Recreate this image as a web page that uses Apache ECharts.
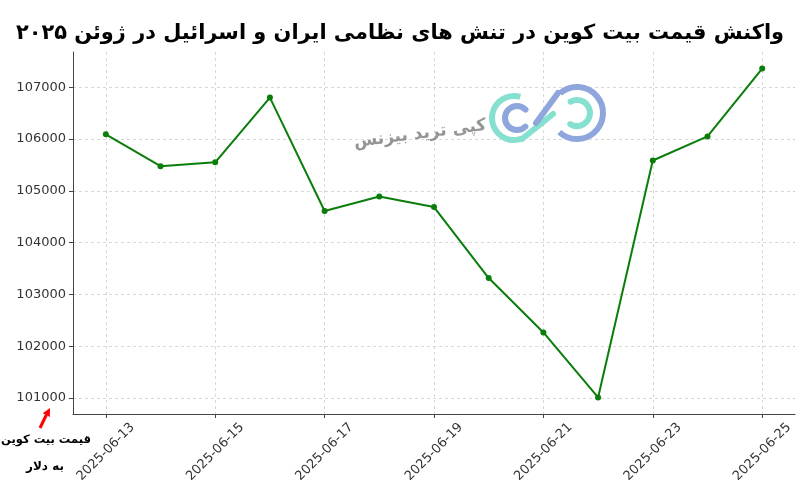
<!DOCTYPE html>
<html><head><meta charset="utf-8">
<script src="https://cdn.jsdelivr.net/npm/echarts@6/dist/echarts.min.js"></script>
<style>html,body{margin:0;padding:0;background:#fff}#c{width:800px;height:500px}</style>
</head><body><div id="c"></div>
<script>
const dates = ['2025-06-13','2025-06-14','2025-06-15','2025-06-16','2025-06-17','2025-06-18','2025-06-19','2025-06-20','2025-06-21','2025-06-22','2025-06-23','2025-06-24','2025-06-25'];
const prices = [106090, 105475, 105550, 106800, 104610, 104890, 104685, 103315, 102265, 101010, 105585, 106050, 107360];
const yTicks = [101000, 102000, 103000, 104000, 105000, 106000, 107000];
const xTickIdx = [0, 2, 4, 6, 8, 10, 12];
const titleText = 'واکنش قیمت بیت کوین در تنش های نظامی ایران و اسرائیل در ژوئن ۲۰۲۵';
const yName1 = 'قیمت بیت کوین';
const yName2 = 'به دلار';
const watermark = 'کپی ترید بیزنس';

const chart = echarts.init(document.getElementById('c'), null, {renderer: 'canvas'});
const font = 'DejaVu Sans';
const teal = '#86e0cf', blue = '#8fa6dc';
chart.setOption({
  animation: false,
  backgroundColor: '#ffffff',
  title: {
    text: titleText, left: 'center', top: 18,
    textStyle: {fontFamily: font, fontWeight: 'bold', fontSize: 20.9, color: '#000'}
  },
  grid: {left: 73, right: 5, top: 52, bottom: 86, containLabel: false},
  xAxis: {
    type: 'value', min: -0.6, max: 12.6,
    axisLine: {show: true, onZero: false, lineStyle: {color: '#444', width: 1}},
    axisTick: {show: true, length: 4, lineStyle: {color: '#444'}, customValues: xTickIdx},
    axisLabel: {customValues: xTickIdx, rotate: 45, margin: 38, align: 'center', verticalAlign: 'middle',
      fontFamily: font, fontSize: 13, color: '#333',
      formatter: v => dates[Math.round(v)]},
    splitLine: {show: true, lineStyle: {color: '#cfcfcf', type: [3, 3], width: 0.8}}
  },
  yAxis: {
    type: 'value', min: 100690, max: 107680,
    axisLine: {show: true, onZero: false, lineStyle: {color: '#444', width: 1}},
    axisTick: {show: true, length: 4, lineStyle: {color: '#444'}, customValues: yTicks},
    axisLabel: {customValues: yTicks, margin: 7, fontFamily: font, fontSize: 13, color: '#333',
      formatter: v => String(v)},
    splitLine: {show: true, lineStyle: {color: '#cfcfcf', type: [3, 3], width: 0.8}}
  },
  series: [{
    type: 'line',
    data: prices.map((p, i) => [i, p]),
    symbol: 'circle', symbolSize: 6,
    lineStyle: {color: '#0a7d0a', width: 2},
    itemStyle: {color: '#0a7d0a'},
    z: 5
  }],
  graphic: [
    {type: 'text', x: 420, y: 134, rotation: 0.13, z: 1,
      style: {text: watermark, fontFamily: font, fontWeight: 'bold', fontSize: 17, fill: '#8a8a8a', opacity: 0.9,
        textAlign: 'center', textVerticalAlign: 'middle'}},
    {type: 'arc', shape: {cx: 514, cy: 118, r: 22, startAngle: 1.2, endAngle: 5.0}, z: 1,
      style: {stroke: teal, lineWidth: 6, fill: null}},
    {type: 'line', shape: {x1: 522, y1: 139, x2: 553, y2: 114}, z: 1,
      style: {stroke: teal, lineWidth: 6, lineCap: 'round'}},
    {type: 'arc', shape: {cx: 517, cy: 118, r: 12, startAngle: 0.8, endAngle: 5.5}, z: 1,
      style: {stroke: blue, lineWidth: 6, fill: null, lineCap: 'round'}},
    {type: 'arc', shape: {cx: 577, cy: 113, r: 26, startAngle: 4.0, endAngle: 8.6}, z: 1,
      style: {stroke: blue, lineWidth: 6, fill: null}},
    {type: 'line', shape: {x1: 536, y1: 123, x2: 558, y2: 93}, z: 1,
      style: {stroke: blue, lineWidth: 6, lineCap: 'round'}},
    {type: 'arc', shape: {cx: 577, cy: 113, r: 13, startAngle: 4.2, endAngle: 8.4}, z: 1,
      style: {stroke: teal, lineWidth: 6, fill: null, lineCap: 'round'}},
    {type: 'text', x: 46, y: 440, z: 10,
      style: {text: yName1, fontFamily: font, fontWeight: 'bold', fontSize: 11.5, fill: '#000',
        textAlign: 'center', textVerticalAlign: 'middle'}},
    {type: 'text', x: 45, y: 467, z: 10,
      style: {text: yName2, fontFamily: font, fontWeight: 'bold', fontSize: 12, fill: '#000',
        textAlign: 'center', textVerticalAlign: 'middle'}},
    {type: 'line', shape: {x1: 40, y1: 428, x2: 46.3, y2: 415}, z: 10,
      style: {stroke: '#ff0000', lineWidth: 3}},
    {type: 'polygon', shape: {points: [[50, 408], [42.8, 413.2], [49.8, 417]]}, z: 10,
      style: {fill: '#ff0000'}}
  ]
});
</script></body></html>
